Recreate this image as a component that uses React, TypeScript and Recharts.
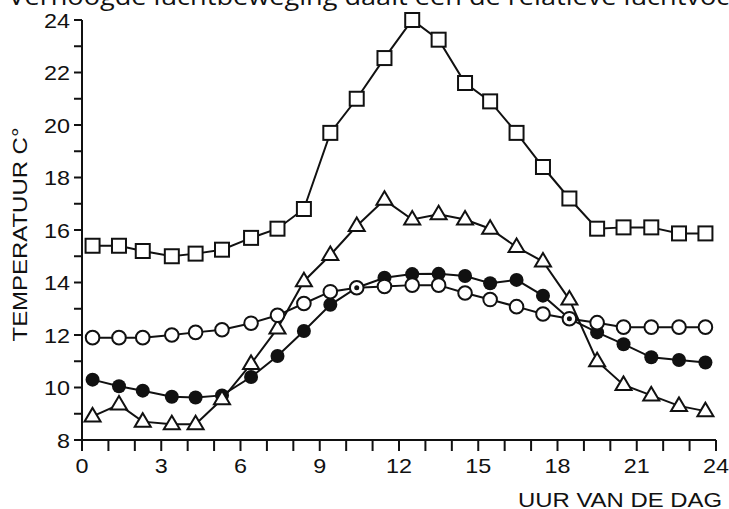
import React from "react";
import { LineChart, Line, XAxis, YAxis } from "recharts";

const hours = [0.4, 1.4, 2.3, 3.4, 4.3, 5.3, 6.4, 7.4, 8.4, 9.4, 10.4, 11.45, 12.5, 13.5, 14.5, 15.45, 16.45, 17.45, 18.45, 19.5, 20.5, 21.55, 22.6, 23.6];

const squares = [15.4, 15.4, 15.2, 15.0, 15.1, 15.25, 15.7, 16.05, 16.8, 19.7, 21.0, 22.55, 24.0, 23.25, 21.6, 20.9, 19.7, 18.4, 17.2, 16.05, 16.1, 16.1, 15.87, 15.87];
const triangles = [8.9, 9.35, 8.7, 8.6, 8.6, 9.55, 10.9, 12.25, 14.05, 15.05, 16.15, 17.15, 16.4, 16.6, 16.4, 16.05, 15.35, 14.8, 13.35, 11.0, 10.1, 9.7, 9.3, 9.1];
const filledCircles = [10.3, 10.05, 9.88, 9.65, 9.62, 9.7, 10.4, 11.2, 12.15, 13.15, 13.8, 14.18, 14.32, 14.33, 14.25, 13.97, 14.1, 13.5, 12.62, 12.1, 11.65, 11.15, 11.05, 10.95];
const openCircles = [11.9, 11.9, 11.9, 12.0, 12.1, 12.2, 12.45, 12.75, 13.2, 13.65, 13.8, 13.85, 13.9, 13.9, 13.6, 13.35, 13.08, 12.8, 12.62, 12.47, 12.3, 12.3, 12.3, 12.3];

const xTicks = Array.from({ length: 25 }, (_, i) => i);
const yTicks = Array.from({ length: 17 }, (_, i) => i + 8);

const title = "Verhoogde luchtbeweging daalt een de relatieve luchtvochtigheid";
const yLabel = "TEMPERATUUR C°";
const xLabel = "UUR VAN DE DAG";

const data = hours.map((h, i) => ({
  hour: h,
  sq: squares[i],
  tri: triangles[i],
  fill: filledCircles[i],
  open: openCircles[i],
}));

const INK = "#111";
const SANS = "'Liberation Sans', Arial, sans-serif";
const tickFont = { fontFamily: SANS, fontSize: 21, fill: INK };
// the source picture is a little wider than tall, so digits get stretched
const digitWidth = 13;

const SquareDot = (p: any) => {
  if (p.cx == null || p.cy == null) return <g key={p.key} />;
  return <rect key={p.key} x={p.cx - 7} y={p.cy - 7} width={14} height={14} fill="#fff" stroke={INK} strokeWidth={2} />;
};

const TriangleDot = (p: any) => {
  if (p.cx == null || p.cy == null) return <g key={p.key} />;
  const { cx, cy } = p;
  return (
    <polygon
      key={p.key}
      points={`${cx},${cy - 8.5} ${cx - 8},${cy + 5} ${cx + 8},${cy + 5}`}
      fill="#fff"
      stroke={INK}
      strokeWidth={2}
    />
  );
};

const FilledDot = (p: any) => {
  if (p.cx == null || p.cy == null) return <g key={p.key} />;
  return <circle key={p.key} cx={p.cx} cy={p.cy} r={7} fill={INK} />;
};

// open circle gets a black centre where the filled series passes through it
const OpenDot = (p: any) => {
  if (p.cx == null || p.cy == null) return <g key={p.key} />;
  const shared = Math.abs(filledCircles[p.index] - openCircles[p.index]) < 0.05;
  return (
    <g key={p.key}>
      <circle cx={p.cx} cy={p.cy} r={6.8} fill="#fff" stroke={INK} strokeWidth={2} />
      {shared && <circle cx={p.cx} cy={p.cy} r={2.5} fill={INK} />}
    </g>
  );
};

const XTick = (p: any) => {
  const v = p.payload.value;
  if (v % 3 !== 0) return <g />;
  const s = String(v);
  return (
    <text x={p.x} y={p.y} dy="0.71em" textAnchor="middle" textLength={s.length * digitWidth} lengthAdjust="spacingAndGlyphs" {...tickFont}>
      {s}
    </text>
  );
};

const YTick = (p: any) => {
  const v = p.payload.value;
  if (v % 2 !== 0) return <g />;
  const s = String(v);
  return (
    <text x={p.x} y={p.y} dy="0.36em" textAnchor="end" textLength={s.length * digitWidth} lengthAdjust="spacingAndGlyphs" {...tickFont}>
      {s}
    </text>
  );
};

export default function App() {
  return (
    <div style={{ position: "relative", width: 729, height: 509, overflow: "hidden", background: "#fff" }}>
      <style>{"body{margin:0}"}</style>
      <LineChart width={729} height={509} data={data} margin={{ top: 20, right: 13, bottom: 39, left: 0 }}>
        <XAxis
          type="number"
          dataKey="hour"
          domain={[0, 24]}
          ticks={xTicks}
          interval={0}
          height={30}
          tick={<XTick />}
          tickSize={11}
          tickMargin={7}
          axisLine={{ stroke: INK, strokeWidth: 2 }}
          tickLine={{ stroke: INK, strokeWidth: 2 }}
        />
        <YAxis
          type="number"
          domain={[8, 24]}
          ticks={yTicks}
          interval={0}
          width={82}
          tick={<YTick />}
          tickSize={8}
          tickMargin={4}
          axisLine={{ stroke: INK, strokeWidth: 2 }}
          tickLine={{ stroke: INK, strokeWidth: 2 }}
        />
        <Line dataKey="sq" stroke={INK} strokeWidth={2} dot={SquareDot} isAnimationActive={false} />
        <Line dataKey="fill" stroke={INK} strokeWidth={2} dot={FilledDot} isAnimationActive={false} />
        <Line dataKey="tri" stroke={INK} strokeWidth={2} dot={TriangleDot} isAnimationActive={false} />
        <Line dataKey="open" stroke={INK} strokeWidth={2} dot={OpenDot} isAnimationActive={false} />
      </LineChart>
      <svg width={729} height={509} style={{ position: "absolute", left: 0, top: 0, pointerEvents: "none" }}>
        <g transform="scale(1.18 1)">
          <text x={7} y={5} fontFamily="'Open Sans', sans-serif" fontSize={23} fill={INK}>
            {title}
          </text>
        </g>
        <text
          x={26.5}
          y={234.5}
          transform="rotate(-90 26.5 234.5)"
          textAnchor="middle"
          textLength={214}
          lengthAdjust="spacingAndGlyphs"
          fontFamily={SANS}
          fontSize={21}
          fill={INK}
        >
          {yLabel}
        </text>
        <text
          x={722}
          y={506.5}
          textAnchor="end"
          textLength={204}
          lengthAdjust="spacingAndGlyphs"
          fontFamily={SANS}
          fontSize={21}
          fill={INK}
        >
          {xLabel}
        </text>
      </svg>
    </div>
  );
}
